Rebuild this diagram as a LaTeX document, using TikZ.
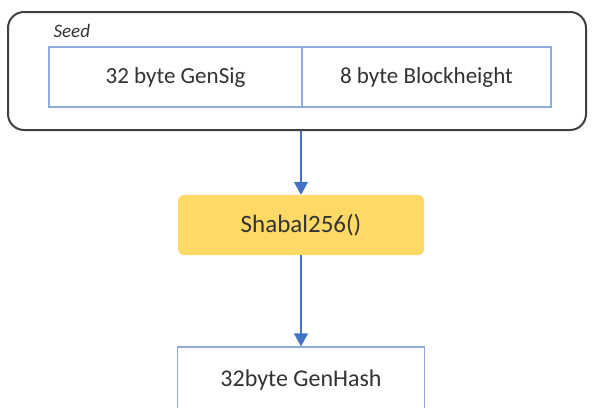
\documentclass[tikz,border=0pt]{standalone}
\usepackage{fontspec}
\setmainfont{Carlito}
\usepackage{xcolor}
\usetikzlibrary{arrows.meta,positioning}

\definecolor{cellblue}{HTML}{8FAADC}
\definecolor{flowblue}{HTML}{4472C4}
\definecolor{hashgold}{HTML}{FFD966}

\begin{document}
\begin{tikzpicture}[
    x=1pt, y=-1pt,
    font=\fontsize{23}{26}\selectfont, text=black!80,
    cell/.style={draw=cellblue, line width=1.2pt, fill=white, inner sep=0pt,
                 minimum height=60pt},
    func/.style={fill=hashgold, rounded corners=6pt, inner sep=0pt,
                 minimum width=246pt, minimum height=60pt,
                 font=\fontsize{25}{28}\selectfont},
    flow/.style={flowblue, line width=1.5pt, -{Triangle[length=13pt,width=14pt]}},
    ]
\useasboundingbox (0,0) rectangle (593,407);

% ---- seed container ----
\node[draw=black!75, line width=2pt, rounded corners=16pt, minimum width=578pt,
      minimum height=118pt, inner sep=0pt] (seedbox) at (297,71) {};
\node[anchor=west, font=\fontsize{19}{22}\selectfont\itshape] (seedlbl) at (50,31) {Seed};
\node[cell, minimum width=253pt] (gensig) at (175.5,77) {32 byte GenSig};
\node[cell, minimum width=249pt] (blockh) at (426.5,77) {8 byte Blockheight};

% ---- hashing ----
\node[func] (shabal) at (301,225) {Shabal256()};
\node[cell, minimum width=247pt, minimum height=66pt, font=\fontsize{24}{27}\selectfont]
      (genhash) at (301,380) {32byte GenHash};

% ---- edges ----
\draw[flow] (seedbox.south -| shabal) -- (shabal.north);
\draw[flow] (shabal) -- (genhash);
\end{tikzpicture}
\end{document}
